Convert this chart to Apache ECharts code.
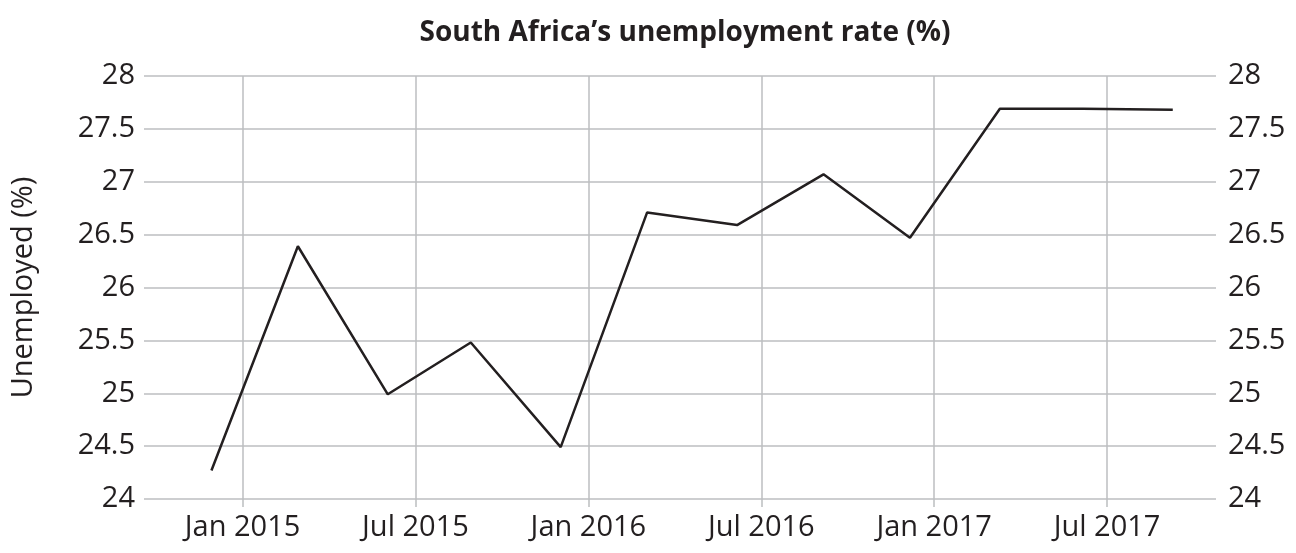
<!DOCTYPE html>
<html>
<head>
<meta charset="utf-8">
<title>South Africa's unemployment rate</title>
<script src="https://cdn.jsdelivr.net/npm/echarts@6/dist/echarts.min.js"></script>
<style>
  html, body { margin: 0; padding: 0; background: #fff; }
  #chart { width: 1296px; height: 553px; }
</style>
</head>
<body>
<div id="chart"></div>
<script>
// quarterly readings, x as decimal year
var years = [2014.91, 2015.16, 2015.42, 2015.66, 2015.92, 2016.17, 2016.43, 2016.68, 2016.93, 2017.19, 2017.43, 2017.69];
var rates = [24.27, 26.39, 24.99, 25.48, 24.49, 26.71, 26.59, 27.07, 26.47, 27.69, 27.69, 27.68];
var tickYears = [2015, 2015.5, 2016, 2016.5, 2017, 2017.5];
var tickLabels = ['Jan 2015', 'Jul 2015', 'Jan 2016', 'Jul 2016', 'Jan 2017', 'Jul 2017'];

var chart = echarts.init(document.getElementById('chart'));
var font = '"Open Sans", "Noto Sans", sans-serif';
var ink = '#231f20';
var gridGrey = '#bcbec0';

var points = years.map(function (y, i) { return [y, rates[i]]; });

chart.setOption({
  animation: false,
  textStyle: { fontFamily: font, color: ink },
  title: {
    text: 'South Africa\u2019s unemployment rate (%)',
    left: 680,
    textAlign: 'center',
    top: 14,
    textStyle: { fontFamily: font, fontWeight: 'bold', fontSize: 28, color: ink }
  },
  grid: { left: 144, right: 80, top: 76, bottom: 54, outerBoundsMode: 'none' },
  xAxis: {
    type: 'value',
    min: 2014.715,
    max: 2017.815,
    axisLine: { show: false },
    axisTick: {
      show: true,
      length: 8,
      customValues: tickYears,
      lineStyle: { color: gridGrey, width: 1.5 }
    },
    axisLabel: {
      customValues: tickYears,
      margin: 14,
      fontSize: 29,
      color: ink,
      formatter: function (v) {
        var i = tickYears.indexOf(v);
        return i >= 0 ? tickLabels[i] : '';
      }
    },
    splitLine: { show: true, lineStyle: { color: gridGrey, width: 1.5 } }
  },
  yAxis: [
    {
      type: 'value',
      min: 24,
      max: 28,
      interval: 0.5,
      name: 'Unemployed (%)',
      nameLocation: 'middle',
      nameGap: 106,
      nameTextStyle: { fontSize: 29, color: ink, fontFamily: font },
      axisLine: { show: false },
      axisTick: { show: false },
      axisLabel: { fontSize: 29, color: ink, margin: 9 },
      splitLine: { show: true, lineStyle: { color: gridGrey, width: 1.5 } }
    },
    {
      type: 'value',
      position: 'right',
      min: 24,
      max: 28,
      interval: 0.5,
      axisLine: { show: false },
      axisTick: { show: false },
      axisLabel: { fontSize: 29, color: ink, margin: 12 },
      splitLine: { show: false }
    }
  ],
  series: [
    {
      type: 'line',
      yAxisIndex: 0,
      data: points,
      showSymbol: false,
      lineStyle: { color: ink, width: 2.5 }
    }
  ]
});
</script>
</body>
</html>
